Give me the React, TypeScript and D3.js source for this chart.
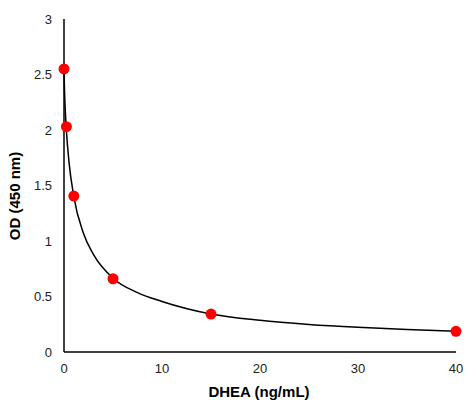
import React from "react";
import * as d3 from "d3";

const standardConc = [0, 0.25, 1, 5, 15, 40];
const standardOD = [2.55, 2.03, 1.405, 0.66, 0.342, 0.186];

const fitConc = [0, 0.05, 0.1, 0.25, 0.5, 1, 2, 3, 5, 7.5, 10, 15, 20, 25, 30, 35, 40];
const fitOD = [2.55, 2.36, 2.24, 1.99, 1.72, 1.4, 1.065, 0.88, 0.665, 0.535, 0.455, 0.342, 0.285, 0.248, 0.222, 0.202, 0.186];

const xTicks = [0, 10, 20, 30, 40];
const yTicks = [0, 0.5, 1, 1.5, 2, 2.5, 3];

export default function App() {
  const W = 465, H = 400;
  const x = d3.scaleLinear().domain([0, 40]).range([64, 456]);
  const y = d3.scaleLinear().domain([0, 3]).range([352, 19]);
  const line = d3
    .line<number>()
    .x((_, i) => x(fitConc[i]))
    .y((d) => y(d))
    .curve(d3.curveMonotoneX);
  const font = "'Liberation Sans', Arial, sans-serif";
  return (
    <svg
      width={W}
      height={H}
      style={{ position: "absolute", left: 0, top: 0, background: "#fff" }}
      fontFamily={font}
    >
      <line x1={x(0)} x2={x(0)} y1={y(3)} y2={y(0)} stroke="#000" strokeWidth={1.5} />
      <line x1={x(0)} x2={x(40)} y1={y(0)} y2={y(0)} stroke="#000" strokeWidth={1.5} />
      {yTicks.map((t) => (
        <text key={"y" + t} x={52} y={y(t)} dy="0.35em" textAnchor="end" fontSize={13} fill="#222">
          {t}
        </text>
      ))}
      {xTicks.map((t) => (
        <text key={"x" + t} x={x(t)} y={368} dy="0.35em" textAnchor="middle" fontSize={13} fill="#222">
          {t}
        </text>
      ))}
      <path d={line(fitOD) || ""} fill="none" stroke="#000" strokeWidth={1.5} />
      {standardConc.map((c, i) => (
        <circle key={"p" + i} cx={x(c)} cy={y(standardOD[i])} r={5.5} fill="#ff0000" />
      ))}
      <text
        transform={`translate(15,196) rotate(-90)`}
        textAnchor="middle"
        dy="0.35em"
        fontSize={15}
        fontWeight="bold"
        fill="#000"
      >
        OD (450 nm)
      </text>
      <text x={259} y={397} textAnchor="middle" fontSize={15} fontWeight="bold" fill="#000">
        DHEA (ng/mL)
      </text>
    </svg>
  );
}
